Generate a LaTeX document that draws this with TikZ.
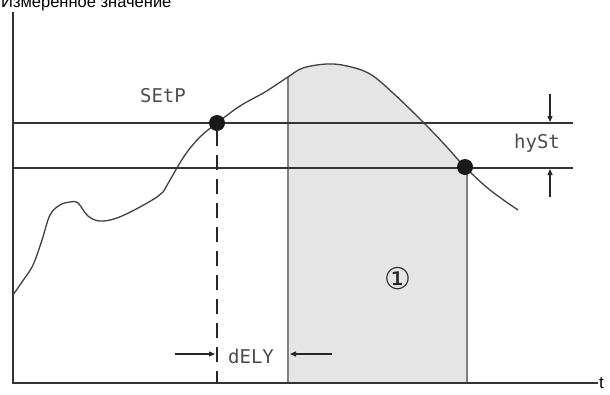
\documentclass[tikz,border=0pt]{standalone}
\usepackage{fontspec}
\setmainfont{Liberation Sans}
\newfontfamily\symfont{DejaVu Sans}
\newfontfamily\segfont{DejaVu Sans Mono}
\usetikzlibrary{arrows.meta}
\begin{document}
\begin{tikzpicture}[x=1pt,y=-1pt,
  axis/.style={line width=1.8pt,draw=black!80},
  hline/.style={line width=1.4pt,draw=black!80},
  curve/.style={line width=1.3pt,draw=black!75},
  edge/.style={line width=1.8pt,draw=black!50},
  dimarrow/.style={line width=1.2pt,draw=black!85,-{Triangle[length=6pt,width=5pt]}},
  seg/.style={font=\segfont\fontsize{19}{19}\selectfont,text=black!70,inner sep=0pt},
  dot/.style={circle,fill=black!90,minimum size=16pt,inner sep=0pt}]
\useasboundingbox (0,0) rectangle (610,394);
\def\curvepts{(13,295) (22,282) (33,265) (42,240) (50,215) (60,205) (70,202) (78,203) (88,216) (100,221) (117,218) (140,207) (157,197) (163,192) (170,180) (185,155) (200,137) (217,123) (240,106) (265,92) (288,77) (303,68) (327,64) (347,66) (370,74) (393,93) (423,122) (445,145) (465,167) (490,190) (518,210)}
% shaded region
\begin{scope}
  \clip (288,0) rectangle (467,383);
  \fill[black!10] plot[smooth,tension=0.6] coordinates {\curvepts} -- (518,383) -- (13,383) -- cycle;
\end{scope}
\coordinate (e1t) at (288,77);
\coordinate (e1b) at (288,383);
\coordinate (e2t) at (467,168);
\coordinate (e2b) at (467,383);
\draw[edge] (e1t) -- (e1b);
\draw[edge] (e2t) -- (e2b);
% axes
\coordinate (ytop) at (13,12);
\coordinate (orig) at (13,383);
\coordinate (xend) at (598,383);
\draw[axis] (ytop) -- (orig) -- (xend);
\node[anchor=west,inner sep=0pt,font=\fontsize{17}{17}\selectfont] (t) at (599,383) {t};
\node[anchor=base west,inner sep=0pt,font=\fontsize{16.5}{16.5}\selectfont] (title) at (1,7) {Измеренное значение};
% threshold lines
\coordinate (s1) at (13,123); \coordinate (s2) at (573,123);
\coordinate (h1) at (13,168); \coordinate (h2) at (573,168);
\draw[hline] (s1) -- (s2);
\draw[hline] (h1) -- (h2);
% curve
\draw[curve] plot[smooth,tension=0.6] coordinates {\curvepts};
% dots
\node[dot] (d1) at (217,123) {};
\node[dot] (d2) at (465,167) {};
% dashed line
\coordinate (dbot) at (217,383);
\draw[line width=1.4pt,draw=black!85,dash pattern=on 15pt off 9pt] (d1) -- (dbot);
% labels
\node[seg] (setp) at (163,96) {SEtP};
\node[seg] (hyst) at (537,143) {hySt};
\node[seg] (dely) at (251,356) {dELY};
\node[font=\symfont\fontsize{30}{30}\selectfont,inner sep=0pt,text=black!85] (one) at (398,279) {①};
% hyst arrows
\coordinate (ha1) at (550,94); \coordinate (ha2) at (550,122);
\coordinate (hb1) at (550,197); \coordinate (hb2) at (550,169);
\draw[dimarrow] (ha1) -- (ha2);
\draw[dimarrow] (hb1) -- (hb2);
% dely arrows
\coordinate (da1) at (175,354); \coordinate (da2) at (215,354);
\coordinate (db1) at (332,354); \coordinate (db2) at (290,354);
\draw[dimarrow] (da1) -- (da2);
\draw[dimarrow] (db1) -- (db2);
\end{tikzpicture}
\end{document}
